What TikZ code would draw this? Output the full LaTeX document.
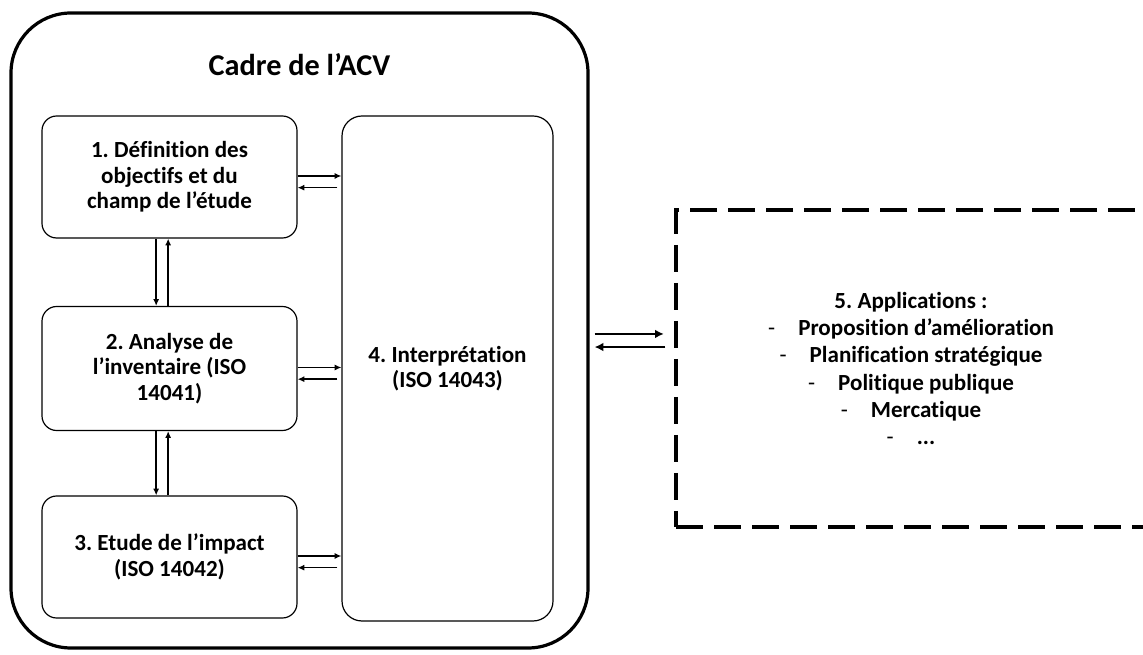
\documentclass[tikz,border=0pt]{standalone}
\usepackage{fontspec}
\setmainfont{Carlito}[Ligatures=NoCommon]
\usetikzlibrary{arrows.meta,calc}
\tikzset{
    etape/.style = {draw, rounded corners=11pt, line width=0.9pt, align=center,
        minimum width=191.25pt, minimum height=91.5pt, inner sep=0pt,
        font=\bfseries\fontsize{17.3}{19.1}\selectfont},
    fleche/.style = {->, line width=1.1pt, >={Latex[length=5pt,width=4.5pt]}},
    grossefleche/.style = {->, line width=2pt, >={Latex[length=6.5pt,width=6.5pt]}}
}
\frenchspacing
\newcommand{\tiret}{{\mdseries -}\hspace{1em}}

\begin{document}
\begin{tikzpicture}[x=0.75pt,y=-0.75pt]
    \useasboundingbox (0,0) rectangle (1143,655);

    % cadre de l'ACV
    \node[draw, line width=2.4pt, rounded corners=45pt, minimum width=432.75pt,
        minimum height=476.25pt] (cadre) at (299.5,330.5) {};
    \node[anchor=base, font=\bfseries\fontsize{22.7}{27}\selectfont] (titre) at (299.5,76) {Cadre de l'ACV};

    \node[etape] (d1) at (169.5,177) {1. Définition des\\objectifs et du\\champ de l'étude};
    \node[etape, minimum height=93pt] (d2) at (169.5,368.5) {2. Analyse de\\l'inventaire (ISO\\14041)};
    \node[etape] (d3) at (169.5,557) {3. Etude de l'impact\\(ISO 14042)};
    \node[etape, rounded corners=15pt, minimum width=158.25pt, minimum height=378.75pt] (i4) at (447.5,368.5) {4. Interprétation\\(ISO 14043)};

    % applications
    \node[draw, dashed, line width=2.3pt, dash pattern=on 20pt off 8.5pt, align=center,
        minimum width=352.5pt, minimum height=237.75pt, inner sep=0pt,
        font=\bfseries\fontsize{17.3}{20.4}\selectfont] (app) at (911,368.5)
        {5. Applications :\\\tiret Proposition d'amélioration\\\tiret Planification stratégique\\\tiret Politique publique\\\tiret Mercatique\\\tiret ...};

    % vers l'interpretation
    \draw [fleche] ([yshift=0.75pt]d1.east)--([yshift=0.75pt]d1.east -| i4.west);
    \draw [fleche] ([yshift=-8pt,xshift=-3pt]d1.east -| i4.west)--([yshift=-8pt]d1.east);
    \draw [fleche] ([yshift=0.75pt]d2.east)--([yshift=0.75pt]d2.east -| i4.west);
    \draw [fleche] ([yshift=-8pt,xshift=-3pt]d2.east -| i4.west)--([yshift=-8pt]d2.east);
    \draw [fleche] ([yshift=0.75pt]d3.east)--([yshift=0.75pt]d3.east -| i4.west);
    \draw [fleche] ([yshift=-8pt,xshift=-3pt]d3.east -| i4.west)--([yshift=-8pt]d3.east);

    % entre les etapes
    \draw [fleche] ([xshift=-10pt]d1.south)--([xshift=-10pt]d1.south |- d2.north);
    \draw [fleche] ([xshift=-1pt]d2.north)--([xshift=-1pt]d2.north |- d1.south);
    \draw [fleche] ([xshift=-10pt]d2.south)--([xshift=-10pt]d2.south |- d3.north);
    \draw [fleche] ([xshift=-1pt]d3.north)--([xshift=-1pt]d3.north |- d2.south);

    % cadre <-> applications
    \draw [grossefleche] ([yshift=-2.6pt,xshift=3.75pt]cadre.east)--([yshift=-2.6pt,xshift=-8pt]cadre.east -| app.west);
    \draw [grossefleche] ([yshift=-12.4pt,xshift=-6.75pt]cadre.east -| app.west)--([yshift=-12.4pt,xshift=3.75pt]cadre.east);

\end{tikzpicture}
\end{document}
